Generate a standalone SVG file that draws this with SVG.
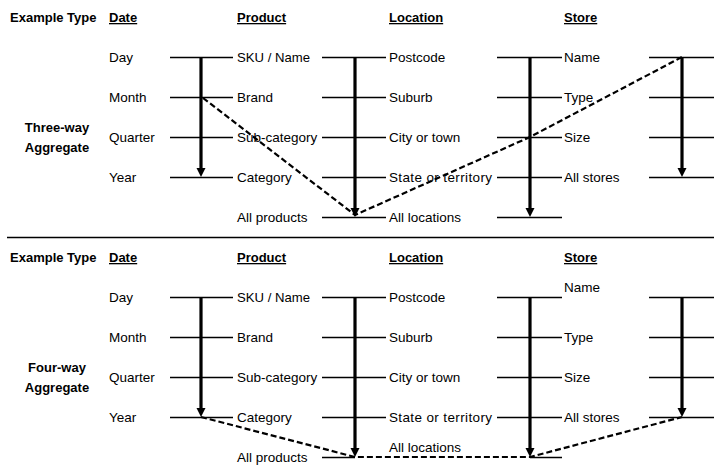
<svg xmlns="http://www.w3.org/2000/svg" width="728" height="471" viewBox="0 0 728 471">
<style>
text{font-family:"Liberation Sans",Arial,sans-serif;font-size:13.5px;fill:#000}
.h{font-weight:bold;font-size:13px}
.u{text-decoration:underline}
.m{text-anchor:middle}
.ln{stroke:#000;stroke-width:1.3;fill:none}
.ar{stroke:#000;stroke-width:3.2;fill:none;marker-end:url(#ah)}
.ds{stroke:#000;stroke-width:2.2;fill:none;stroke-dasharray:6,3}
</style>
<defs>
<marker id="ah" markerUnits="userSpaceOnUse" markerWidth="10" markerHeight="10" refX="1" refY="4.5" orient="auto" viewBox="0 0 10 9">
<path d="M0,0 L9,4.5 L0,9 Z" fill="#000"/>
</marker>
</defs>
<rect width="728" height="471" fill="#fff"/>

<g id="headers-top">
<text class="h" x="10" y="22">Example Type</text>
<text class="h u" x="109" y="22">Date</text>
<text class="h u" x="237" y="22">Product</text>
<text class="h u" x="389" y="22">Location</text>
<text class="h u" x="564" y="22">Store</text>
<text class="h m" x="57" y="132">Three-way</text>
<text class="h m" x="57" y="152">Aggregate</text>
</g>

<g id="date-top">
<text x="109" y="62">Day</text>
<text x="109" y="102">Month</text>
<text x="109" y="142">Quarter</text>
<text x="109" y="182">Year</text>
</g>
<g id="product-top">
<text x="237" y="62" textLength="73" lengthAdjust="spacingAndGlyphs">SKU / Name</text>
<text x="237" y="102">Brand</text>
<text x="237" y="142">Sub-category</text>
<text x="237" y="182">Category</text>
<text x="237" y="222">All products</text>
</g>
<g id="location-top">
<text x="389" y="62">Postcode</text>
<text x="389" y="102">Suburb</text>
<text x="389" y="142">City or town</text>
<text x="389" y="182" textLength="103">State or territory</text>
<text x="389" y="222">All locations</text>
</g>
<g id="store-top">
<text x="564" y="62">Name</text>
<text x="564" y="102">Type</text>
<text x="564" y="142">Size</text>
<text x="564" y="182">All stores</text>
</g>

<line class="ln" x1="7" y1="237.5" x2="714" y2="237.5"/>

<g id="headers-bottom">
<text class="h" x="10" y="262">Example Type</text>
<text class="h u" x="109" y="262">Date</text>
<text class="h u" x="237" y="262">Product</text>
<text class="h u" x="389" y="262">Location</text>
<text class="h u" x="564" y="262">Store</text>
<text class="h m" x="57" y="372">Four-way</text>
<text class="h m" x="57" y="392">Aggregate</text>
</g>
<g id="date-bottom">
<text x="109" y="302">Day</text>
<text x="109" y="342">Month</text>
<text x="109" y="382">Quarter</text>
<text x="109" y="422">Year</text>
</g>
<g id="product-bottom">
<text x="237" y="302" textLength="73" lengthAdjust="spacingAndGlyphs">SKU / Name</text>
<text x="237" y="342">Brand</text>
<text x="237" y="382">Sub-category</text>
<text x="237" y="422">Category</text>
<text x="237" y="462">All products</text>
</g>
<g id="location-bottom">
<text x="389" y="302">Postcode</text>
<text x="389" y="342">Suburb</text>
<text x="389" y="382">City or town</text>
<text x="389" y="422" textLength="103">State or territory</text>
<text x="389" y="452">All locations</text>
</g>
<g id="store-bottom">
<text x="564" y="292">Name</text>
<text x="564" y="342">Type</text>
<text x="564" y="382">Size</text>
<text x="564" y="422">All stores</text>
</g>

<g id="connectors">
<path class="ln" d="M170,57.5H233M170,97.5H233M170,137.5H233M170,177.5H233
M322,57.5H386M322,97.5H386M322,137.5H386M322,177.5H386M322,217.5H386
M497,57.5H562M497,97.5H562M497,137.5H562M497,177.5H562M497,217.5H562
M649,57.5H714M649,97.5H714M649,137.5H714M649,177.5H714"/>
<path class="ln" d="M170,297.5H233M170,337.5H233M170,377.5H233M170,417.5H233
M322,297.5H386M322,337.5H386M322,377.5H386M322,417.5H386M322,457.5H355
M497,297.5H562M497,337.5H562M497,377.5H562M497,417.5H562M530,457.5H562
M649,297.5H714M649,337.5H714M649,377.5H714M649,417.5H714"/>
<line class="ar" x1="201" y1="57" x2="201" y2="169"/>
<line class="ar" x1="355" y1="57" x2="355" y2="209"/>
<line class="ar" x1="530" y1="57" x2="530" y2="209"/>
<line class="ar" x1="682" y1="57" x2="682" y2="169"/>
<line class="ar" x1="201" y1="297" x2="201" y2="409"/>
<line class="ar" x1="355" y1="297" x2="355" y2="449"/>
<line class="ar" x1="530" y1="297" x2="530" y2="449"/>
<line class="ar" x1="682" y1="297" x2="682" y2="409"/>
<polyline class="ds" points="203,98 355,215 530,137 682,57"/>
<polyline class="ds" points="201,417 355,457 530,457 682,417"/>
</g>
</svg>
